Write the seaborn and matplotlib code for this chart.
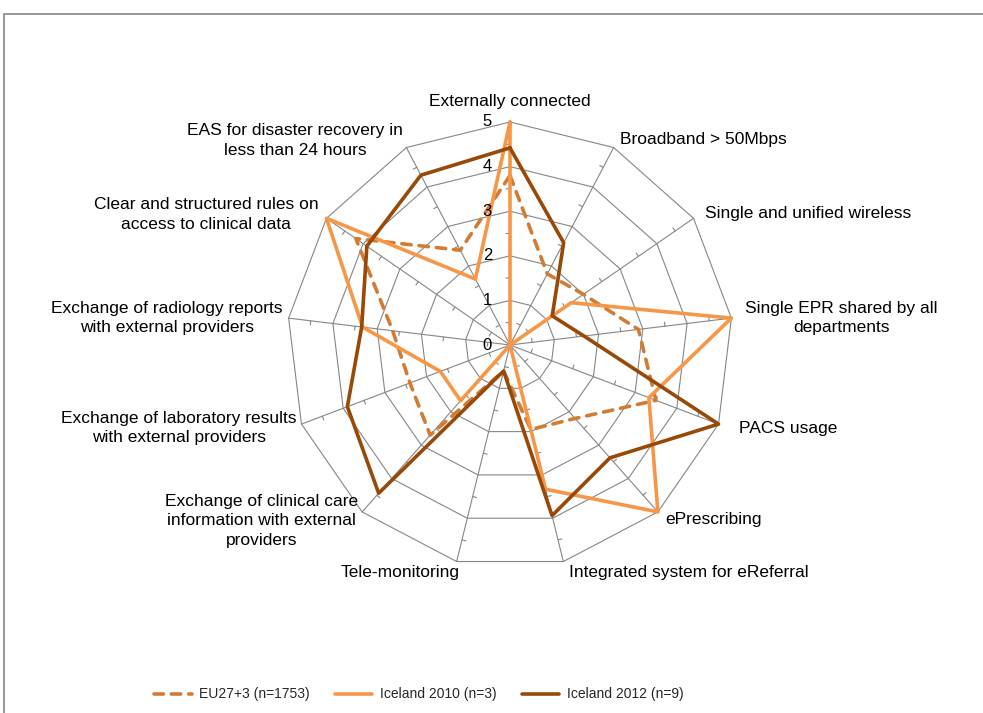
import numpy as np
import matplotlib
matplotlib.use("Agg")
import matplotlib.pyplot as plt
from matplotlib.lines import Line2D
from matplotlib.patches import Rectangle
from matplotlib import font_manager
import seaborn as sns

# ---------------- data ----------------
categories = [
    "Externally connected",
    "Broadband > 50Mbps",
    "Single and unified wireless",
    "Single EPR shared by all\ndepartments",
    "PACS usage",
    "ePrescribing",
    "Integrated system for eReferral",
    "Tele-monitoring",
    "Exchange of clinical care\ninformation with external\nproviders",
    "Exchange of laboratory results\nwith external providers",
    "Exchange of radiology reports\nwith external providers",
    "Clear and structured rules on\naccess to clinical data",
    "EAS for disaster recovery in\nless than 24 hours",
]
eu27 = [3.8, 1.8, 2.0, 2.9, 3.5, 2.2, 1.95, 0.6, 2.7, 2.4, 2.65, 4.2, 2.4]
iceland_2010 = [5.0, 0.0, 1.67, 5.0, 3.33, 5.0, 3.33, 0.0, 1.67, 1.67, 3.33, 5.0, 1.67]
iceland_2012 = [4.42, 2.59, 1.15, 1.67, 5.0, 3.38, 3.94, 0.6, 4.44, 3.9, 3.35, 3.9, 4.3]
series_names = ["EU27+3 (n=1753)", "Iceland 2010 (n=3)", "Iceland 2012 (n=9)"]
r_ticks = [0, 1, 2, 3, 4, 5]

# ---------------- style ----------------
sns.set_style("white")
plt.rcParams["font.family"] = ["Liberation Sans", "DejaVu Sans"]

c_eu = "#D07C36"
c_2010 = "#F79646"
c_2012 = "#984807"
c_grid = "#868686"
dash_pat = (0, (2.6, 2.2))

W, H, DPI = 983, 713, 100
fig = plt.figure(figsize=(W / DPI, H / DPI), dpi=DPI)

cx, cy, R = 510, 345, 223  # pixel centre & radius of chart
ax = fig.add_axes([(cx - R) / W, 1 - (cy + R) / H, 2 * R / W, 2 * R / H],
                  projection="polar")
ax.set_theta_zero_location("N")
ax.set_theta_direction(-1)
ax.grid(False)
ax.spines["polar"].set_visible(False)
ax.patch.set_alpha(0)

n = len(categories)
theta = np.linspace(0, 2 * np.pi, n, endpoint=False)
theta_c = np.append(theta, theta[0] + 2 * np.pi)

# polygon grid
for k in r_ticks[1:]:
    ax.plot(theta_c, [k] * (n + 1), color=c_grid, lw=0.8, clip_on=False, zorder=1)
# spokes
for t in theta:
    ax.plot([t, t], [0, r_ticks[-1]], color=c_grid, lw=0.8, clip_on=False, zorder=1)
# minor tick marks at half steps
px_per_unit = R / r_ticks[-1]
tick_len = 4.0 / px_per_unit
tx, ty = [], []
for t in theta:
    for k in r_ticks[:-1]:
        r = k + 0.5
        d = tick_len / r
        tx += [t, t - d, np.nan]
        ty += [r, np.hypot(r, tick_len), np.nan]
ax.plot(tx, ty, color=c_grid, lw=0.8, clip_on=False, zorder=1)

# data series via seaborn
def close(v):
    return np.append(v, v[0])

sns.lineplot(x=theta_c, y=close(eu27), ax=ax, sort=False, estimator=None,
             color=c_eu, linewidth=2.6, linestyle=dash_pat,
             dash_capstyle="round", legend=False, zorder=3, clip_on=False)
sns.lineplot(x=theta_c, y=close(iceland_2010), ax=ax, sort=False, estimator=None,
             color=c_2010, linewidth=2.6, legend=False, zorder=4, clip_on=False)
sns.lineplot(x=theta_c, y=close(iceland_2012), ax=ax, sort=False, estimator=None,
             color=c_2012, linewidth=2.6, legend=False, zorder=5, clip_on=False)

ax.set_ylim(0, r_ticks[-1])
ax.set_xticks([])
ax.set_yticks([])
ax.set_xlabel("")
ax.set_ylabel("")

# radial value labels
for k in r_ticks:
    ax.annotate(str(k), xy=(0, k), xytext=(-18, 0), textcoords="offset pixels",
                ha="right", va="center", fontsize=12, color="#000000",
                annotation_clip=False, zorder=6)

# category labels (pixel offsets from each outer vertex)
label_layout = [
    ((0, 13), "center", "bottom"),
    ((6, 8), "left", "center"),
    ((11, 5), "left", "center"),
    ((14, 0), "left", "center"),
    ((20, -4), "left", "center"),
    ((7, -8), "left", "center"),
    ((6, -3), "left", "top"),
    ((3, -3), "right", "top"),
    ((-4, -9), "right", "center"),
    ((-5, -4), "right", "center"),
    ((-6, 0), "right", "center"),
    ((-8, 4), "right", "center"),
    ((-3, 7), "right", "center"),
]
for t, lab, (off, ha, va) in zip(theta, categories, label_layout):
    ax.annotate(lab, xy=(t, r_ticks[-1]), xytext=off, textcoords="offset pixels",
                ha=ha, va=va, multialignment="center", fontsize=12.5,
                color="#000000", annotation_clip=False, linespacing=1.38)

# legend
leg_font = font_manager.FontProperties(family="Liberation Sans", size=10)

handles = [
    Line2D([], [], color=c_eu, lw=2.6, linestyle=dash_pat, dash_capstyle="round"),
    Line2D([], [], color=c_2010, lw=2.6),
    Line2D([], [], color=c_2012, lw=2.6),
]
fig.legend(handles, series_names, loc="center", bbox_to_anchor=(0.426, 0.026),
           ncol=3, frameon=False, prop=leg_font, handlelength=2.7,
           handletextpad=0.55, columnspacing=1.8)

# outer chart frame (partially off-canvas, as in the reference)
fig.add_artist(Rectangle((4 / W, -0.1), 1.2, 1 - 14 / H + 0.1,
                         transform=fig.transFigure, fill=False,
                         edgecolor=c_grid, lw=1.2))

fig.savefig("out.png", dpi=DPI)
